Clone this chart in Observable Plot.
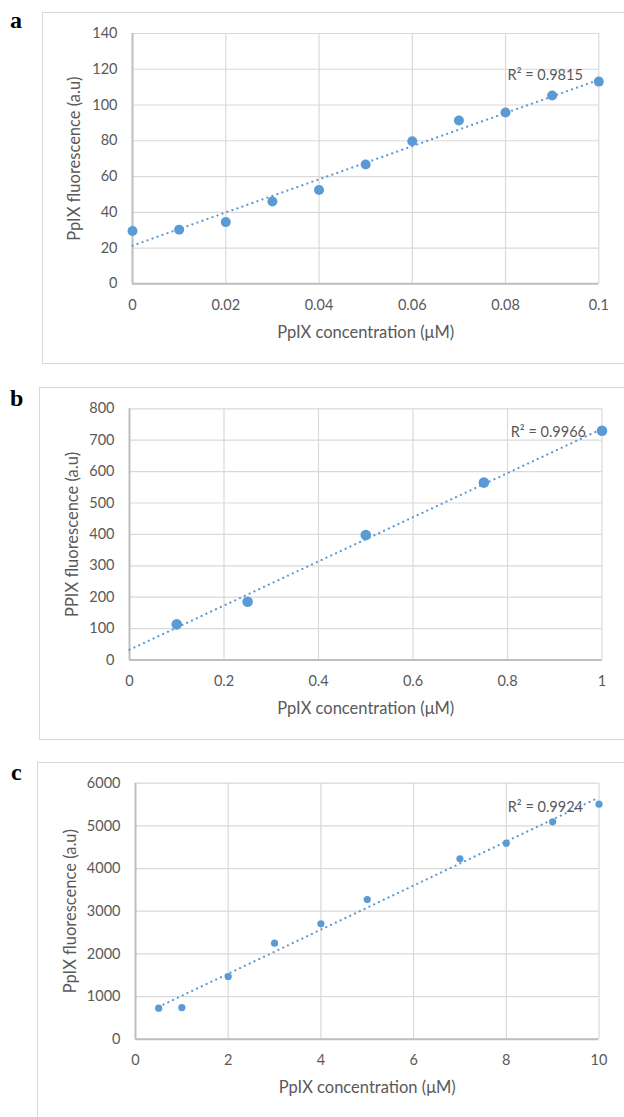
<!DOCTYPE html>
<html>
<head>
<meta charset="utf-8">
<script src="https://cdn.jsdelivr.net/npm/d3@7"></script>
<script src="https://cdn.jsdelivr.net/npm/@observablehq/plot@0.6"></script>
<style>
  html, body { margin: 0; padding: 0; background: #fff; }
  #root { position: relative; width: 624px; height: 1117px; overflow: hidden; }
  .frame { position: absolute; border: 1.5px solid #D9D9D9; box-sizing: border-box; }
  .letter { position: absolute; font-family: "Liberation Serif", "DejaVu Serif", serif; font-weight: bold; font-size: 24px; line-height: 1; color: #000; }
  .panel { position: absolute; left: 0; }
</style>
</head>
<body>
<div id="root"></div>
<script>
// ---- Data ----
const panelLetters = ["a", "b", "c"];
const xTitle = "PpIX concentration (μM)";
const yTitles = ["PpIX fluorescence (a.u)", "PPIX fluorescence (a.u)", "PpIX fluorescence (a.u)"];
const r2Labels = ["R² = 0.9815", "R² = 0.9966", "R² = 0.9924"];

// Panel a
const concA = [0, 0.01, 0.02, 0.03, 0.04, 0.05, 0.06, 0.07, 0.08, 0.09, 0.1];
const fluoA = [29.5, 30.3, 34.5, 46, 52.5, 66.7, 79.7, 91.3, 95.8, 105.3, 113.1];
const xTicksA = [0, 0.02, 0.04, 0.06, 0.08, 0.1];
const yTicksA = [0, 20, 40, 60, 80, 100, 120, 140];
const trendRangeA = [0, 0.1];

// Panel b
const concB = [0.1, 0.25, 0.5, 0.75, 1];
const fluoB = [113.5, 185.7, 397.9, 565, 730.3];
const xTicksB = [0, 0.2, 0.4, 0.6, 0.8, 1];
const yTicksB = [0, 100, 200, 300, 400, 500, 600, 700, 800];
const trendRangeB = [0, 1];

// Panel c
const concC = [0.5, 1, 2, 3, 4, 5, 7, 8, 9, 10];
const fluoC = [727, 742, 1469, 2250, 2703, 3273, 4227, 4594, 5094, 5508];
const xTicksC = [0, 2, 4, 6, 8, 10];
const yTicksC = [0, 1000, 2000, 3000, 4000, 5000, 6000];
const trendRangeC = [0.5, 10];

// ---- Helpers ----
function regression(xs, ys) {
  const mx = d3.mean(xs), my = d3.mean(ys);
  let sxy = 0, sxx = 0;
  xs.forEach((x, i) => { sxy += (x - mx) * (ys[i] - my); sxx += (x - mx) * (x - mx); });
  const slope = sxy / sxx;
  return { slope, intercept: my - slope * mx };
}

const BLUE = "#5B9BD5";
const TXT = "#595959";
const root = document.getElementById("root");

function addPanel(cfg) {
  const fr = document.createElement("div");
  fr.className = "frame";
  Object.assign(fr.style, cfg.frame);
  root.appendChild(fr);
  const lt = document.createElement("div");
  lt.className = "letter";
  lt.textContent = cfg.letter;
  lt.style.left = cfg.letterPos[0] + "px";
  lt.style.top = cfg.letterPos[1] + "px";
  root.appendChild(lt);

  const pts = cfg.xs.map((x, i) => ({ x, y: cfg.ys[i] }));
  const reg = regression(cfg.xs, cfg.ys);
  const trend = cfg.trendRange.map(x => ({ x, y: reg.intercept + reg.slope * x }));
  const fmt = d => String(d);

  const chart = Plot.plot({
    width: 624,
    height: cfg.height,
    marginTop: cfg.m[0], marginRight: cfg.m[1], marginBottom: cfg.m[2], marginLeft: cfg.m[3],
    style: { background: "transparent", fontFamily: "Lato, 'Open Sans', sans-serif", fontSize: "14.5px", color: TXT, overflow: "visible" },
    x: { domain: cfg.xDomain, label: null },
    y: { domain: cfg.yDomain, label: null },
    marks: [
      Plot.gridX({ ticks: cfg.xTicks, stroke: "#D9D9D9", strokeOpacity: 1, strokeWidth: 1.2 }),
      Plot.gridY({ ticks: cfg.yTicks, stroke: "#D9D9D9", strokeOpacity: 1, strokeWidth: 1.2 }),
      Plot.axisX({ ticks: cfg.xTicks, tickFormat: fmt, tickSize: 0, tickPadding: 16, label: null }),
      Plot.axisY({ ticks: cfg.yTicks, tickFormat: fmt, tickSize: 0, tickPadding: 15, label: null }),
      Plot.ruleX([cfg.xDomain[0]], { stroke: "#BFBFBF", strokeWidth: 2 }),
      Plot.ruleY([cfg.yDomain[0]], { stroke: "#BFBFBF", strokeWidth: 2 }),
      Plot.line(trend, { x: "x", y: "y", stroke: BLUE, strokeWidth: 2.2, strokeDasharray: "0.1 5.2", strokeLinecap: "round" }),
      Plot.dot(pts, { x: "x", y: "y", r: cfg.r, fill: BLUE }),
      Plot.text([cfg.r2], { frameAnchor: "top-right", textAnchor: "end", lineAnchor: "middle", dx: -16, dy: cfg.r2dy, fill: TXT, fontSize: 14.5 }),
      Plot.text([xTitle], { frameAnchor: "bottom", textAnchor: "middle", lineAnchor: "middle", dy: 48.5, fill: TXT, fontSize: 16.5 }),
      Plot.text([cfg.yTitle], { frameAnchor: "left", textAnchor: "middle", lineAnchor: "middle", rotate: -90, dx: cfg.ytDx, fill: TXT, fontSize: 16.5 })
    ]
  });
  const wrap = document.createElement("div");
  wrap.className = "panel";
  wrap.style.top = cfg.top + "px";
  wrap.appendChild(chart);
  root.appendChild(wrap);
}

addPanel({
  letter: panelLetters[0], letterPos: [10, 8],
  frame: { left: "42px", top: "12px", width: "600px", height: "352px" },
  top: 0, height: 370, m: [33, 25.7, 86.7, 132],
  xDomain: [0, 0.1], yDomain: [0, 140], xTicks: xTicksA, yTicks: yTicksA,
  xs: concA, ys: fluoA, r: 5, trendRange: trendRangeA,
  r2: r2Labels[0], r2dy: 42, yTitle: yTitles[0], ytDx: -58
});

addPanel({
  letter: panelLetters[1], letterPos: [10, 386],
  frame: { left: "38.5px", top: "387px", width: "600px", height: "353px" },
  top: 370, height: 370, m: [38.3, 22.5, 80.5, 129],
  xDomain: [0, 1], yDomain: [0, 800], xTicks: xTicksB, yTicks: yTicksB,
  xs: concB, ys: fluoB, r: 5.3, trendRange: trendRangeB,
  r2: r2Labels[1], r2dy: 23.5, yTitle: yTitles[1], ytDx: -57
});

addPanel({
  letter: panelLetters[2], letterPos: [11, 760],
  frame: { left: "36.5px", top: "762px", width: "600px", height: "400px" },
  top: 740, height: 377, m: [42.7, 25.5, 78.3, 135],
  xDomain: [0, 10], yDomain: [0, 6000], xTicks: xTicksC, yTicks: yTicksC,
  xs: concC, ys: fluoC, r: 3.6, trendRange: trendRangeC,
  r2: r2Labels[2], r2dy: 24, yTitle: yTitles[2], ytDx: -64.5
});
</script>
</body>
</html>
